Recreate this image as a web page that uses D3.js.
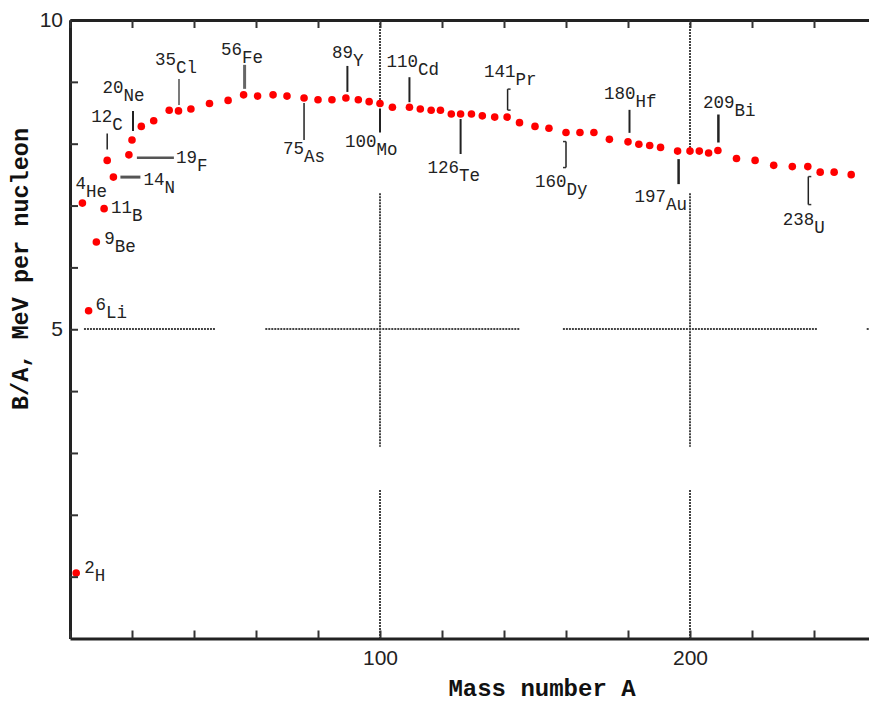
<!DOCTYPE html>
<html>
<head>
<meta charset="utf-8">
<script src="https://cdn.jsdelivr.net/npm/d3@7"></script>
<style>
  body { margin: 0; background: #fff; }
  svg { display: block; }
</style>
</head>
<body>
<div id="canvas"></div>
<script>
// binding energy per nucleon vs mass number
var massNumber = [2, 4, 6, 8.5, 11, 12, 14, 19, 20, 23, 27, 32, 35, 39, 45, 51, 56, 60.5, 65.5, 70,
    75.5, 80, 84.5, 89, 93, 96.5, 100, 104, 109.5, 113, 116.5, 119.5, 123, 126, 129.5, 133, 137, 141,
    145, 150, 154.5, 160, 164.5, 169, 174, 180, 183.5, 187, 190.5, 196, 200, 203, 206, 209, 215, 221,
    227, 233, 238, 242, 246.5, 252];
var bindingPerNucleon = [1.06, 7.04, 5.30, 6.41, 6.95, 7.73, 7.46, 7.82, 8.06, 8.28, 8.37, 8.54, 8.53,
    8.56, 8.65, 8.70, 8.79, 8.77, 8.79, 8.77, 8.74, 8.71, 8.71, 8.74, 8.71, 8.68, 8.65, 8.59, 8.59,
    8.56, 8.54, 8.54, 8.48, 8.48, 8.48, 8.45, 8.43, 8.43, 8.34, 8.28, 8.25, 8.18, 8.18, 8.18, 8.07,
    8.03, 7.99, 7.97, 7.94, 7.88, 7.88, 7.88, 7.85, 7.89, 7.76, 7.73, 7.65, 7.63, 7.63, 7.54, 7.54, 7.50];

var labelMass = [2, 4, 6, 9, 11, 12, 14, 19, 20, 35, 56, 75, 89, 100, 110, 126, 141, 160, 180, 197, 209, 238];
var labelSymbol = ['H', 'He', 'Li', 'Be', 'B', 'C', 'N', 'F', 'Ne', 'Cl', 'Fe', 'As', 'Y', 'Mo', 'Cd',
    'Te', 'Pr', 'Dy', 'Hf', 'Au', 'Bi', 'U'];

var xTicks = [0, 20, 40, 60, 80, 100, 120, 140, 160, 180, 200, 220, 240];
var xTickLabels = [100, 200];
var yTicks = [1, 2, 3, 4, 5, 6, 7, 8, 9, 10];
var yTickLabels = [5, 10];

// placement of annotation text / leader lines, pixels relative to the point
var layout = {
    H:  {tx: 8, ty: 0},
    Li: {tx: 7, ty: -1},
    Be: {tx: 8, ty: 2},
    B:  {tx: 7, ty: 4},
    He: {tx: -7, ty: -14},
    C:  {tx: -16, ty: -38, lead: [0, -27, 0, -11], w: 1.5},
    N:  {tx: 30, ty: 8, lead: [7, 0, 27, 0], w: 3, c: '#555'},
    F:  {tx: 47, ty: 8, lead: [8, 3, 45, 3], w: 2.5, c: '#555'},
    Ne: {tx: -29.5, ty: -47, lead: [1, -29, 1, -9], w: 2},
    Cl: {tx: -23.5, ty: -45.5, lead: [0.5, -32, 0.5, -6], w: 1.2},
    Fe: {tx: -22.5, ty: -40, lead: [1, -30, 1, -6], w: 3, c: '#666'},
    As: {tx: -21, ty: 56, lead: [0, 5, 0, 42], w: 1.5},
    Y:  {tx: -14, ty: -40, lead: [1.5, -32, 1.5, -6], w: 2},
    Mo: {tx: -35, ty: 44, lead: [0, 5, 0, 29], w: 2},
    Cd: {tx: -23, ty: -40, lead: [0, -30, 0, -5], w: 2},
    Te: {tx: -33, ty: 59, lead: [0, 5, 0, 40], w: 2},
    Pr: {tx: -23, ty: -40, lead: [0.5, -28, 0.5, -7], w: 1.5, cap: 1},
    Dy: {tx: -31, ty: 54, lead: [0, 9, 0, 35], w: 1.5, cap: -1},
    Hf: {tx: -24, ty: -43, lead: [1.5, -32, 1.5, -9], w: 2},
    Au: {tx: -43, ty: 51, lead: [1, 8, 1, 33], w: 2.5},
    Bi: {tx: -15, ty: -43, lead: [0.5, -36, 0.5, -8], w: 2.5},
    U:  {tx: -25, ty: 58, lead: [0.5, 10, 0.5, 38], w: 1.5, cap: 1}
};

// broken dotted reference lines (data units)
var gridH = {value: 5, parts: [[4.5, 47], [63, 145], [159, 241], [257, 260]]};
var gridV = [
    {value: 100, parts: [[8.65, 10], [3.1, 7.2], [0, 2.4]]},
    {value: 200, parts: [[7.88, 10], [3.1, 7.2], [0, 2.4]]}
];

var W = 869, H = 702;
var x = d3.scaleLinear().domain([0, 258]).range([70, 869.8]);
var y = d3.scaleLinear().domain([0, 10]).range([638.5, 20]);

var svg = d3.select('#canvas').append('svg')
    .attr('width', W).attr('height', H);

var points = massNumber.map(function(a, i) { return {a: a, b: bindingPerNucleon[i]}; });

// grid
var grid = svg.append('g').attr('stroke', '#444').attr('stroke-width', 2).attr('stroke-dasharray', '2,1');
gridH.parts.forEach(function(p) {
    grid.append('line')
        .attr('x1', x(p[0])).attr('x2', x(p[1]))
        .attr('y1', Math.round(y(gridH.value))).attr('y2', Math.round(y(gridH.value)));
});
gridV.forEach(function(g) {
    g.parts.forEach(function(p) {
        grid.append('line')
            .attr('x1', Math.round(x(g.value))).attr('x2', Math.round(x(g.value)))
            .attr('y1', y(p[1])).attr('y2', y(p[0]));
    });
});

// labels + leaders
function nearestPoint(m) {
    var best = points[0];
    points.forEach(function(p) { if (Math.abs(p.a - m) < Math.abs(best.a - m)) best = p; });
    return best;
}

var ann = svg.append('g');
labelMass.forEach(function(m, i) {
    var sym = labelSymbol[i];
    var L = layout[sym];
    var p = nearestPoint(m);
    var px = x(p.a), py = y(p.b);
    if (L.lead) {
        ann.append('line')
            .attr('x1', px + L.lead[0]).attr('y1', py + L.lead[1])
            .attr('x2', px + L.lead[2]).attr('y2', py + L.lead[3])
            .attr('stroke', L.c || '#222').attr('stroke-width', L.w);
        if (L.cap) {
            [L.lead[1], L.lead[3]].forEach(function(yy) {
                ann.append('line')
                    .attr('x1', px + L.lead[0]).attr('y1', py + yy)
                    .attr('x2', px + L.lead[0] + 3 * L.cap).attr('y2', py + yy)
                    .attr('stroke', L.c || '#333').attr('stroke-width', 1.5);
            });
        }
    }
    var t = ann.append('text')
        .attr('x', px + L.tx).attr('y', py + L.ty)
        .attr('font-family', '"Liberation Mono", "DejaVu Sans Mono", monospace')
        .attr('font-size', 17.5)
        .attr('fill', '#222');
    t.append('tspan').text(m);
    t.append('tspan').attr('dy', 8).text(sym);
});

// points
svg.append('g').selectAll('circle')
    .data(points).enter()
    .append('circle')
    .attr('cx', function(d) { return x(d.a); })
    .attr('cy', function(d) { return y(d.b); })
    .attr('r', 3.8)
    .attr('fill', '#ff0000');

// axes
var tickFont = '"Liberation Sans", Arial, sans-serif';

var yAxis = d3.axisLeft(y).tickValues(yTicks).tickSizeInner(-8).tickSizeOuter(0).tickPadding(7)
    .tickFormat(function(d) { return yTickLabels.indexOf(d) >= 0 ? d : ''; });
var gy = svg.append('g').attr('transform', 'translate(70,0)').call(yAxis);

var xAxis = d3.axisBottom(x).tickValues(xTicks).tickSizeInner(-8).tickSizeOuter(0).tickPadding(12)
    .tickFormat(function(d) { return xTickLabels.indexOf(d) >= 0 ? d : ''; });
var gx = svg.append('g').attr('transform', 'translate(0,' + y(0) + ')').call(xAxis);

var xTop = d3.axisTop(x).tickValues(xTicks).tickSizeInner(-8).tickSizeOuter(0).tickFormat('');
var gt = svg.append('g').attr('transform', 'translate(0,' + y(10) + ')').call(xTop);

[gy, gx, gt].forEach(function(g) {
    g.select('.domain').attr('stroke', '#222').attr('stroke-width', 3);
    g.selectAll('.tick line').attr('stroke', '#333').attr('stroke-width', 2);
    g.selectAll('.tick text').attr('font-family', tickFont).attr('font-size', 21).attr('fill', '#222');
});

// titles
svg.append('text')
    .attr('x', 542).attr('y', 696)
    .attr('text-anchor', 'middle')
    .attr('font-family', '"Liberation Mono", "Courier New", monospace')
    .attr('font-weight', 'bold')
    .attr('font-size', 24)
    .attr('fill', '#111')
    .text('Mass number A');

svg.append('text')
    .attr('transform', 'translate(28,269) rotate(-90)')
    .attr('text-anchor', 'middle')
    .attr('font-family', '"Liberation Mono", "Courier New", monospace')
    .attr('font-weight', 'bold')
    .attr('font-size', 23.5)
    .attr('fill', '#111')
    .text('B/A, MeV per nucleon');
</script>
</body>
</html>
